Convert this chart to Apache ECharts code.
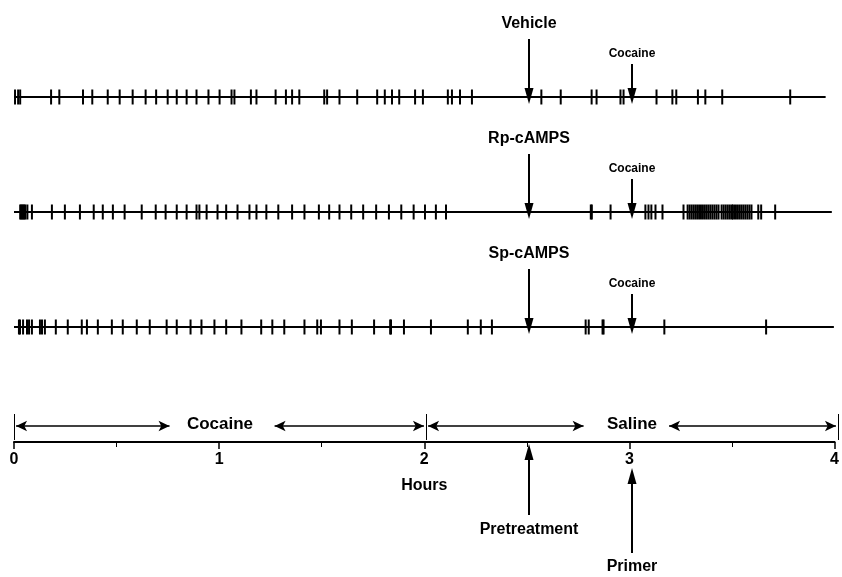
<!DOCTYPE html>
<html>
<head>
<meta charset="utf-8">
<script src="https://cdn.jsdelivr.net/npm/echarts@6/dist/echarts.min.js"></script>
<style>
  html, body { margin: 0; padding: 0; background: #fff; }
  #chart { width: 842px; height: 577px; }
</style>
</head>
<body>
<div id="chart"></div>
<script>
// event records (hours) for each pretreatment
var rowNames = ["Vehicle", "Rp-cAMPS", "Sp-cAMPS"];
var vehicleEvents = [0.005, 0.02, 0.03, 0.18, 0.22, 0.335, 0.38, 0.455, 0.513, 0.576, 0.639, 0.69,
  0.746, 0.79, 0.838, 0.886, 0.944, 0.998, 1.056, 1.07, 1.15, 1.177, 1.27, 1.32, 1.35, 1.385,
  1.506, 1.52, 1.58, 1.666, 1.763, 1.80, 1.835, 1.87, 1.947, 1.985, 2.106, 2.126, 2.165, 2.223,
  2.56, 2.654, 2.804, 2.828, 2.944, 2.959, 3.119, 3.196, 3.215, 3.32, 3.356, 3.438, 3.768];
var rpEvents = [0.03, 0.035, 0.04, 0.045, 0.05, 0.055, 0.065, 0.087, 0.184, 0.247, 0.32, 0.387,
  0.431, 0.48, 0.537, 0.62, 0.688, 0.736, 0.79, 0.838, 0.886, 0.90, 0.935, 0.988, 1.03, 1.085,
  1.143, 1.177, 1.225, 1.283, 1.35, 1.41, 1.48, 1.53, 1.58, 1.637, 1.695, 1.758, 1.82, 1.88,
  1.94, 1.995, 2.048, 2.097, 2.80, 2.805, 2.896, 3.065, 3.08, 3.094, 3.114, 3.148, 3.25,
  3.27, 3.28, 3.29, 3.30, 3.31, 3.32, 3.33, 3.34, 3.35, 3.36, 3.37, 3.38, 3.39, 3.40, 3.41, 3.42,
  3.435, 3.445, 3.455, 3.465, 3.475, 3.485, 3.49, 3.50, 3.51, 3.52, 3.53, 3.54, 3.55, 3.56,
  3.57, 3.58, 3.613, 3.627, 3.695];
var spEvents = [0.024, 0.029, 0.044, 0.063, 0.073, 0.087, 0.126, 0.136, 0.15, 0.203, 0.261,
  0.329, 0.354, 0.407, 0.475, 0.528, 0.596, 0.659, 0.741, 0.79, 0.857, 0.91, 0.973, 1.03, 1.104,
  1.2, 1.254, 1.312, 1.41, 1.472, 1.49, 1.58, 1.64, 1.748, 1.826, 1.83, 1.893, 2.024, 2.203,
  2.266, 2.32, 2.775, 2.79, 2.857, 2.862, 3.157, 3.651];
var rowEvents = [vehicleEvents, rpEvents, spEvents];
var rowEnd = [3.94, 3.97, 3.98];
var pretreatTime = 2.5;
var primerTime = 3.0;
var phaseNames = ["Cocaine", "Saline"];
var phaseStart = [0, 2];
var phaseEnd = [2, 4];
var phaseGapLeft = [0.245, 0.235];
var phaseGapRight = [0.265, 0.18];

// layout (pixel rows on the hidden y axis)
var rowY = [97, 212, 327];
var bracketY = 426;

var chart = echarts.init(document.getElementById("chart"));
var font = "Liberation Sans";
var series = [];

function arrowLabel(size, dist) {
  return { show: true, position: "start", distance: dist, formatter: "{b}",
           fontFamily: font, fontWeight: "bold", fontSize: size, color: "#000" };
}

rowEvents.forEach(function (ev, i) {
  var y = rowY[i];
  series.push({
    type: "line", xAxisIndex: 0, yAxisIndex: 0, symbol: "none", silent: true,
    lineStyle: { color: "#000", width: 2 },
    data: [[0, y], [rowEnd[i], y]],
    markLine: {
      silent: true, animation: false,
      symbol: ["none", "triangle"], symbolSize: [9, 16],
      lineStyle: { color: "#000", width: 2, type: "solid" },
      data: [
        [{ coord: [pretreatTime, y - 58], name: rowNames[i], label: arrowLabel(16, 7) },
         { coord: [pretreatTime, y - 1] }],
        [{ coord: [primerTime, y - 33], name: "Cocaine", label: arrowLabel(12, 4) },
         { coord: [primerTime, y - 1] }]
      ]
    }
  });
  series.push({
    type: "scatter", xAxisIndex: 0, yAxisIndex: 0, silent: true,
    symbol: "rect", symbolSize: [2, 15],
    itemStyle: { color: "#000", opacity: 1 },
    data: ev.map(function (t) { return [t, y]; })
  });
});

// phase brackets above the time axis
var bracketLines = [];
phaseNames.forEach(function (name, i) {
  var mid = (phaseStart[i] + phaseEnd[i]) / 2;
  bracketLines.push([{ coord: [phaseStart[i] + 0.01, bracketY] }, { coord: [mid - phaseGapLeft[i], bracketY] }]);
  bracketLines.push([{ coord: [mid + phaseGapRight[i], bracketY] }, { coord: [phaseEnd[i] - 0.01, bracketY] }]);
});
var bracketBars = [];
[0, 2, 4].forEach(function (t) {
  bracketBars.push([{ coord: [t, 414] }, { coord: [t, 440] }]);
});
series.push({
  type: "line", xAxisIndex: 0, yAxisIndex: 0, symbol: "none", silent: true,
  data: [],
  markLine: {
    silent: true, animation: false,
    symbol: ["arrow", "arrow"], symbolSize: [8, 11],
    lineStyle: { color: "#000", width: 1.5, type: "solid" },
    label: { show: false },
    data: bracketLines
  }
});
series.push({
  type: "line", xAxisIndex: 0, yAxisIndex: 0, symbol: "none", silent: true,
  data: [],
  markLine: {
    silent: true, animation: false, symbol: ["none", "none"],
    lineStyle: { color: "#000", width: 1, type: "solid" },
    label: { show: false },
    data: bracketBars
  }
});
series.push({
  type: "scatter", xAxisIndex: 0, yAxisIndex: 0, silent: true, symbolSize: 0,
  itemStyle: { opacity: 1 },
  data: phaseNames.map(function (n, i) { return { value: [(phaseStart[i] + phaseEnd[i]) / 2, bracketY - 2], name: n }; }),
  label: { show: true, position: "inside", formatter: "{b}", fontFamily: font,
           fontWeight: "bold", fontSize: 17, color: "#000" }
});

// pretreatment and primer arrows under the axis
series.push({
  type: "line", xAxisIndex: 0, yAxisIndex: 0, symbol: "none", silent: true,
  data: [],
  markLine: {
    silent: true, animation: false,
    symbol: ["none", "triangle"], symbolSize: [9, 16],
    lineStyle: { color: "#000", width: 2, type: "solid" },
    data: [
      [{ coord: [pretreatTime, 515], name: "Pretreatment", label: arrowLabel(16, 7) },
       { coord: [pretreatTime, 452] }],
      [{ coord: [primerTime, 553], name: "Primer", label: arrowLabel(16, 6) },
       { coord: [primerTime, 476] }]
    ]
  }
});

chart.setOption({
  animation: false,
  backgroundColor: "#fff",
  grid: [
    { left: 14, right: 4, top: 0, bottom: 0 },
    { left: 14, right: 4, top: 0, bottom: 135 }
  ],
  xAxis: [
    { type: "value", gridIndex: 0, min: 0, max: 4, show: false },
    { type: "value", gridIndex: 1, min: 0, max: 4, interval: 1,
      name: "Hours", nameLocation: "middle", nameGap: 36,
      nameTextStyle: { fontFamily: font, fontWeight: "bold", fontSize: 16, color: "#000" },
      axisLine: { lineStyle: { color: "#000", width: 2 } },
      axisTick: { show: true, length: 7, lineStyle: { color: "#000", width: 1.5 } },
      minorTick: { show: true, splitNumber: 2, length: 5, lineStyle: { color: "#000", width: 1 } },
      splitLine: { show: false },
      axisLabel: { fontFamily: font, fontWeight: "bold", fontSize: 16, color: "#000", margin: 10 } }
  ],
  yAxis: [
    { type: "value", gridIndex: 0, min: 0, max: 577, inverse: true, show: false },
    { type: "value", gridIndex: 1, min: 0, max: 1, show: false }
  ],
  series: series
});
</script>
</body>
</html>
